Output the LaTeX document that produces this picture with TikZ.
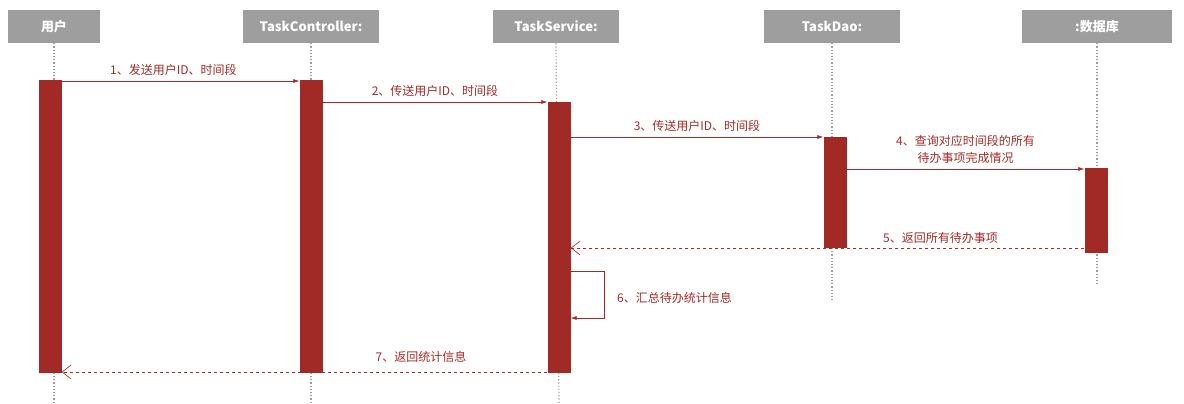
\documentclass[tikz,border=0pt]{standalone}
\usepackage{fontspec}
\setmainfont{Noto Sans CJK SC}
\usetikzlibrary{arrows.meta}
\definecolor{dred}{HTML}{A12A26}
\definecolor{hgray}{HTML}{9E9E9E}
\begin{document}
\begin{tikzpicture}[x=1pt,y=-1pt,
 head/.style={fill=hgray,text=white,minimum height=33pt,inner sep=0pt,font=\fontsize{13}{15}\selectfont\bfseries},
 act/.style={fill=dred,draw=none,minimum width=23pt,inner sep=0pt},
 life/.style={draw=hgray,dotted,line width=1.2pt},
 msg/.style={draw=dred,line width=0.6pt,-{Latex[length=6pt,width=4pt]}},
 ret/.style={draw=dred,line width=0.6pt,dashed,-{Straight Barb[length=9pt,width=14pt]}},
 lab/.style={text=dred,font=\fontsize{12}{17}\selectfont,align=center,inner sep=1pt}]
\useasboundingbox (0,0) rectangle (1184,404);
\node[head,minimum width=92pt] (h1) at (54,26.5) {用户};
\node[head,minimum width=136pt] (h2) at (311,26.5) {TaskController:};
\node[head,minimum width=126pt] (h3) at (556,26.5) {TaskService:};
\node[head,minimum width=136pt] (h4) at (832,26.5) {TaskDao:};
\node[head,minimum width=150pt] (h5) at (1097,26.5) {:数据库};
\coordinate (e1) at (54,404);\coordinate (e2) at (311,404);\coordinate (e3) at (559,404);
\coordinate (e4) at (832,300);\coordinate (e5) at (1097,285);
\foreach \i in {1,...,5}{\draw[life] (h\i.south) -- (e\i);}
\node[act,minimum height=293pt] (a1) at (50,226.5) {};
\node[act,minimum height=293pt] (a2) at (311,226.5) {};
\node[act,minimum height=271pt] (a3) at (559,237.5) {};
\node[act,minimum height=111pt] (a4) at (835,192.5) {};
\node[act,minimum height=85pt] (a5) at (1096,210.5) {};
\draw[msg] (a1.east|-0,81) -- node[lab,above=4pt,pos=0.47]{1、发送用户ID、时间段} (a2.west|-0,81);
\draw[msg] (a2.east|-0,102) -- node[lab,above=4pt]{2、传送用户ID、时间段} (a3.west|-0,102);
\draw[msg] (a3.east|-0,137) -- node[lab,above=4pt]{3、传送用户ID、时间段} (a4.west|-0,137);
\draw[msg] (a4.east|-0,169) -- node[lab,above=4pt]{4、查询对应时间段的所有\\待办事项完成情况} (a5.west|-0,169);
\draw[ret] (a5.west|-0,248) -- node[lab,above=3pt,pos=0.28]{5、返回所有待办事项} (a3.east|-0,248);
\coordinate (s1) at (604,271);\coordinate (s2) at (604,318);
\draw[msg] (a3.east|-0,271) -- (s1) -- (s2) -- (a3.east|-0,318);
\node[lab,anchor=west] (l6) at (616,298) {6、汇总待办统计信息};
\draw[ret] (a3.west|-0,372) -- node[lab,above=8pt,pos=0.26]{7、返回统计信息} (a1.east|-0,372);
\end{tikzpicture}
\end{document}
